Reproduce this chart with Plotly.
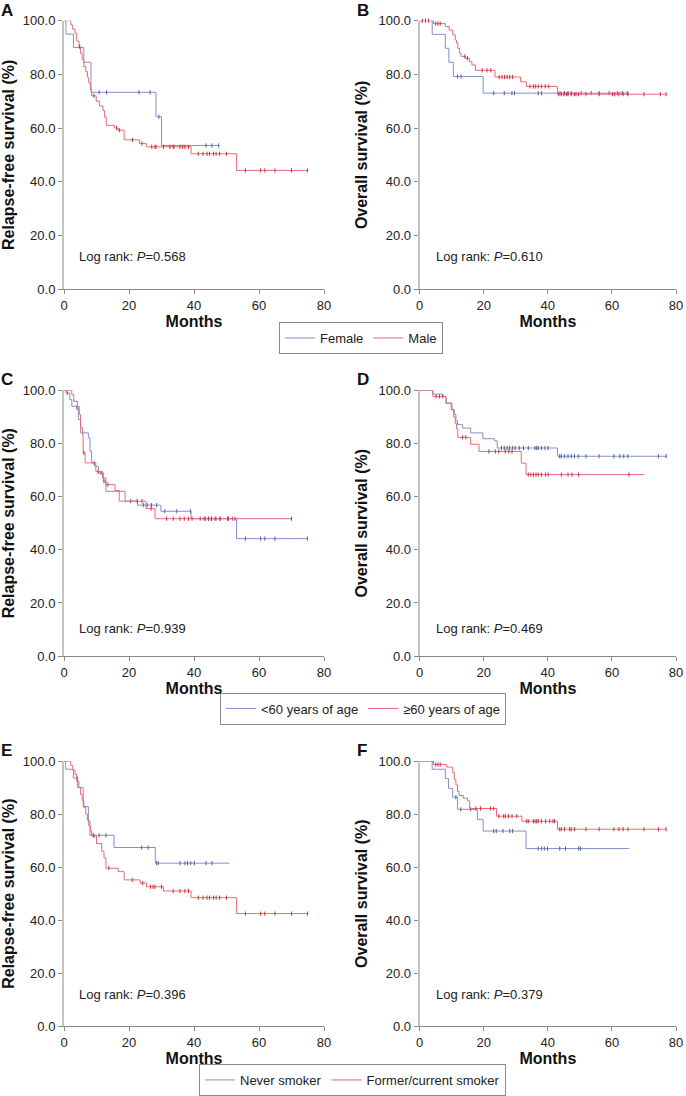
import numpy as np
import plotly.graph_objects as go
from plotly.subplots import make_subplots

# Kaplan-Meier curves: event times (months), survival (%) after each step,
# last follow-up time and censoring times

# A: relapse-free survival by sex
a_fem_t = [0.6, 2.9, 6.1, 8.3, 28.3, 30.0]
a_fem_s = [95.0, 90.0, 84.5, 73.3, 64.2, 53.5]
a_fem_end = 47.8
a_fem_c = [10.8, 13.1, 23.1, 26.5, 29.2, 43.7, 45.5, 47.6]

a_male_t = [2.1, 2.7, 3.4, 3.9, 4.6, 5.1, 5.6, 6.1, 6.7, 7.2, 7.6, 8.1, 8.5, 9.9, 10.9, 12.0, 12.5,
            13.0, 15.6, 16.6, 18.5, 23.2, 25.3, 39.1, 53.1]
a_male_s = [98.4, 96.8, 95.3, 92.4, 90.3, 87.8, 85.6, 82.9, 81.0, 78.9, 76.9, 74.4, 72.0, 70.0, 68.2,
            66.5, 64.0, 61.0, 60.0, 59.2, 55.6, 54.2, 53.0, 50.4, 44.2]
a_male_end = 75.1
a_male_c = [4.8, 9.2, 16.2, 17.0, 21.1, 24.0, 27.0, 28.0, 28.3, 30.6, 32.6, 33.6, 33.8, 35.7, 36.5,
            37.2, 38.3, 41.3, 42.8, 44.0, 44.8, 46.0, 46.8, 47.9, 50.0, 55.8, 60.5, 61.8, 64.9, 70.0, 74.9]

# B: overall survival by sex
b_fem_t = [3.9, 8.0, 9.1, 10.5, 19.8]
b_fem_s = [94.9, 89.7, 84.5, 79.2, 73.0]
b_fem_end = 65.4
b_fem_c = [11.8, 12.9, 23.1, 26.4, 28.8, 29.6, 37.0, 38.0, 43.8, 45.2, 46.3, 47.3, 50.4, 53.5, 56.0,
           59.1, 61.7, 63.2, 64.8]

b_male_t = [4.3, 8.0, 9.2, 10.3, 11.1, 11.5, 11.9, 12.4, 12.9, 14.3, 15.5, 16.3, 17.4, 23.5, 31.5, 33.3, 43.0]
b_male_s = [98.9, 97.8, 96.5, 94.7, 92.8, 91.6, 89.7, 87.9, 86.7, 86.0, 84.7, 83.5, 81.5, 79.0, 77.2, 75.5, 72.6]
b_male_end = 77.0
b_male_c = [0.8, 1.8, 2.8, 5.0, 5.7, 6.4, 14.1, 14.9, 19.5, 21.0, 22.2, 24.8, 25.7, 26.5, 27.3, 28.1,
            29.0, 34.4, 35.5, 36.2, 37.0, 38.0, 39.2, 40.3, 43.4, 44.2, 45.0, 45.8, 46.3, 47.3, 48.3,
            48.8, 49.6, 51.9, 56.0, 60.2, 60.9, 62.2, 63.5, 65.0, 70.0, 75.1, 76.9]

# C: relapse-free survival by age
c_yng_t = [0.6, 1.8, 2.4, 3.9, 4.4, 5.1, 7.5, 8.0, 8.5, 9.5, 10.6, 12.1, 12.9, 18.8, 22.6, 29.8, 39.1, 53.1]
c_yng_s = [99.0, 96.5, 94.0, 93.4, 89.0, 84.0, 82.1, 77.1, 72.7, 71.4, 68.9, 65.8, 62.0, 58.3, 56.8,
           54.5, 51.7, 44.2]
c_yng_end = 75.1
c_yng_c = [1.0, 4.0, 9.3, 11.4, 12.3, 20.5, 24.4, 25.6, 26.9, 28.5, 31.0, 34.7, 38.9, 43.5, 44.5,
           45.3, 46.8, 48.0, 50.3, 51.8, 55.8, 60.5, 61.8, 64.9, 74.9]

c_old_t = [2.4, 3.0, 4.1, 4.7, 5.1, 5.7, 5.9, 6.5, 9.8, 11.9, 12.9, 15.7, 17.0, 25.2, 28.0]
c_old_s = [98.4, 95.9, 94.0, 90.9, 85.9, 83.4, 76.5, 72.7, 69.4, 67.0, 64.5, 62.3, 58.3, 55.5, 51.7]
c_old_end = 70.0
c_old_c = [6.1, 10.5, 13.5, 22.5, 24.0, 26.8, 31.6, 33.6, 35.7, 37.0, 38.3, 39.4, 41.9, 43.1, 44.4,
           45.4, 46.5, 48.0, 50.6, 52.6, 70.0]

# D: overall survival by age
d_yng_t = [4.1, 7.2, 8.2, 10.1, 10.8, 11.3, 11.8, 13.4, 15.9, 19.7, 23.3, 24.2, 43.0]
d_yng_s = [98.6, 97.7, 95.2, 92.7, 90.9, 88.5, 87.1, 85.8, 84.0, 81.8, 81.0, 78.3, 75.2]
d_yng_end = 77.1
d_yng_c = [25.5, 26.4, 27.3, 28.1, 29.0, 29.8, 31.1, 32.4, 33.9, 36.0, 36.5, 37.0, 38.0, 39.1, 40.1,
           43.7, 44.2, 45.2, 46.3, 47.3, 48.3, 49.5, 51.9, 56.0, 60.6, 62.5, 63.7, 65.0, 74.5, 76.9]

d_old_t = [4.1, 8.2, 9.8, 10.6, 11.1, 11.5, 11.9, 15.9, 18.5, 31.7, 33.2]
d_old_s = [97.7, 95.2, 92.7, 90.0, 87.5, 85.5, 82.3, 79.7, 77.0, 72.6, 68.3]
d_old_end = 70.1
d_old_c = [5.1, 6.2, 7.2, 13.4, 14.4, 21.6, 23.6, 24.7, 26.7, 27.8, 28.8, 33.9, 34.7, 35.5, 36.3,
           37.0, 38.0, 39.3, 40.1, 44.2, 46.3, 47.5, 49.6, 65.3]

# E: relapse-free survival by smoking
e_nev_t = [0.5, 2.9, 4.2, 5.9, 7.5, 8.0, 15.4, 28.1]
e_nev_s = [96.9, 93.6, 90.0, 82.8, 77.4, 72.0, 67.4, 61.5]
e_nev_end = 50.9
e_nev_c = [4.0, 9.0, 10.8, 12.9, 23.9, 25.9, 28.5, 29.0, 35.7, 37.2, 38.0, 39.0, 40.1, 43.7, 45.5]

e_smk_t = [2.1, 2.7, 3.4, 3.9, 4.6, 5.1, 5.6, 6.1, 6.7, 7.2, 7.6, 8.1, 8.5, 10.0, 11.6, 12.3, 12.9,
           16.7, 18.5, 23.4, 25.4, 30.6, 39.1, 53.1]
e_smk_s = [98.3, 96.6, 95.0, 92.3, 90.0, 87.4, 85.0, 82.5, 80.0, 77.7, 75.6, 73.7, 71.8, 68.9, 66.0,
           63.5, 59.6, 58.3, 55.2, 54.0, 52.6, 51.0, 48.5, 42.5]
e_smk_end = 75.1
e_smk_c = [9.2, 13.8, 21.0, 24.2, 26.6, 27.4, 28.0, 30.0, 33.6, 35.7, 37.2, 38.3, 41.3, 42.8, 44.0,
           44.8, 46.0, 46.8, 47.9, 50.0, 55.8, 60.5, 61.8, 64.9, 70.0, 74.9]

# F: overall survival by smoking
f_nev_t = [3.9, 8.0, 9.0, 10.3, 11.8, 18.0, 19.8, 33.2]
f_nev_s = [96.9, 93.4, 89.7, 86.4, 81.8, 78.0, 73.6, 67.0]
f_nev_end = 65.4
f_nev_c = [11.3, 12.8, 15.9, 23.1, 23.9, 26.0, 28.1, 29.0, 37.0, 38.0, 38.9, 39.9, 43.7, 45.5, 49.6, 50.2]

f_smk_t = [4.3, 8.4, 10.3, 10.8, 11.3, 11.8, 12.3, 13.6, 14.9, 15.6, 24.0, 31.9, 43.0]
f_smk_s = [98.7, 97.7, 95.6, 93.0, 91.0, 88.5, 87.0, 86.0, 85.0, 82.1, 79.2, 77.3, 74.3]
f_smk_end = 77.0
f_smk_c = [5.0, 5.7, 6.4, 17.5, 19.0, 22.1, 23.1, 24.7, 26.2, 26.7, 27.7, 28.8, 30.3, 33.4, 33.9,
           35.5, 36.0, 36.5, 37.0, 38.0, 39.3, 40.6, 41.6, 42.1, 43.7, 44.2, 45.2, 46.8, 47.3, 48.3,
           51.9, 56.0, 60.6, 62.2, 63.5, 65.0, 70.0, 74.5, 76.9]

p_values = ["0.568", "0.610", "0.939", "0.469", "0.396", "0.379"]
panel_letters = ["A", "B", "C", "D", "E", "F"]
y_titles = ["Relapse-free survival (%)", "Overall survival (%)"] * 3
group_names = [("Female", "Male"), ("<60 years of age", "≥60 years of age"),
               ("Never smoker", "Former/current smoker")]

BLUE = "#8391c8"
BLUE_DK = "#4f5ea3"
RED = "#e66a76"
RED_DK = "#c8303f"
FONT = "Liberation Sans, Arial, sans-serif"

panels = [
    ((a_fem_t, a_fem_s, a_fem_end, a_fem_c), (a_male_t, a_male_s, a_male_end, a_male_c)),
    ((b_fem_t, b_fem_s, b_fem_end, b_fem_c), (b_male_t, b_male_s, b_male_end, b_male_c)),
    ((c_yng_t, c_yng_s, c_yng_end, c_yng_c), (c_old_t, c_old_s, c_old_end, c_old_c)),
    ((d_yng_t, d_yng_s, d_yng_end, d_yng_c), (d_old_t, d_old_s, d_old_end, d_old_c)),
    ((e_nev_t, e_nev_s, e_nev_end, e_nev_c), (e_smk_t, e_smk_s, e_smk_end, e_smk_c)),
    ((f_nev_t, f_nev_s, f_nev_end, f_nev_c), (f_smk_t, f_smk_s, f_smk_end, f_smk_c)),
]


def surv_at(t, s, times):
    idx = np.searchsorted(np.array(t), np.array(times), side="right")
    full = np.concatenate([[100.0], s])
    return full[idx]


fig = make_subplots(rows=3, cols=2)

# panel geometry in pixels of the 686x1096 page
W, H = 686, 1096
x_dom = [(64, 324), (419.7, 676)]
y_dom = [(20.7, 289.3), (390.7, 656.7), (761.7, 1027.3)]
legend_keys = ["legend", "legend2", "legend3"]

for i, (blue, red) in enumerate(panels):
    row, col = i // 2 + 1, i % 2 + 1
    lg = legend_keys[i // 2]
    for (t, s, end, cens), color, dk, name in [(blue, BLUE, BLUE_DK, group_names[i // 2][0]),
                                                 (red, RED, RED_DK, group_names[i // 2][1])]:
        xs = [0] + list(t) + [end]
        ys = [100.0] + list(s) + [s[-1]]
        fig.add_trace(go.Scatter(x=xs, y=ys, mode="lines", line=dict(color=color, width=1, shape="hv"),
                                 name=name, legend=lg, showlegend=(col == 1), cliponaxis=False),
                      row=row, col=col)
        fig.add_trace(go.Scatter(x=cens, y=surv_at(t, s, cens), mode="markers",
                                 marker=dict(symbol="line-ns-open", size=3, color=dk,
                                             line=dict(color=dk, width=1)),
                                 showlegend=False, cliponaxis=False, hoverinfo="skip"),
                      row=row, col=col)

for i in range(6):
    row, col = i // 2 + 1, i % 2 + 1
    x0, x1 = x_dom[col - 1]
    y0, y1 = y_dom[row - 1]
    fig.update_xaxes(domain=[x0 / W, x1 / W], range=[0, 80], tickvals=[0, 20, 40, 60, 80],
                     showline=True, linecolor="#8a8a8a", linewidth=1, ticks="outside", ticklen=4,
                     tickcolor="#8a8a8a", showgrid=False, zeroline=False, automargin=False,
                     tickfont=dict(size=13, color="#222", family=FONT),
                     title=dict(text="Months", standoff=3,
                                font=dict(size=16, color="#111", family=FONT, weight="bold")),
                     row=row, col=col)
    fig.update_yaxes(domain=[1 - y1 / H, 1 - y0 / H], range=[0, 100], tickvals=[0, 20, 40, 60, 80, 100],
                     tickformat=".1f", showline=True, linecolor="#c4c4c4", linewidth=2, ticks="outside",
                     ticklen=4, tickcolor="#8a8a8a", showgrid=False, zeroline=False, automargin=False,
                     tickfont=dict(size=13, color="#222", family=FONT),
                     title=dict(text=y_titles[i], standoff=7,
                                font=dict(size=16, color="#111", family=FONT, weight="bold")),
                     row=row, col=col)
    xa = "x" if i == 0 else f"x{i + 1}"
    ya = "y" if i == 0 else f"y{i + 1}"
    fig.add_annotation(x=4.0 if col == 1 else 4.6, y=12.0 if row != 2 else 10.2, xref=xa, yref=ya,
                       xanchor="left", yanchor="middle", showarrow=False,
                       text=f"Log rank: <i>P</i>=" + p_values[i],
                       font=dict(size=13, color="#222", family=FONT))
    fig.add_annotation(x=(0 if col == 1 else 356) / W, y=1 - (y0 - 21) / H, xref="paper", yref="paper",
                       xanchor="left", yanchor="top", showarrow=False, text=f"<b>{panel_letters[i]}</b>",
                       font=dict(size=17, color="#111", family=FONT), borderpad=0)

legend_style = dict(orientation="h", xanchor="center", yanchor="middle", bgcolor="white",
                    bordercolor="#8a8a8a", borderwidth=1, font=dict(size=13, color="#222", family=FONT),
                    itemwidth=30, tracegroupgap=0)
fig.update_layout(
    width=W, height=H, margin=dict(l=0, r=0, t=0, b=0),
    paper_bgcolor="white", plot_bgcolor="white", font=dict(family=FONT),
    legend=dict(x=361 / W, y=1 - 338 / H, **legend_style),
    legend2=dict(x=363 / W, y=1 - 708.5 / H, **legend_style),
    legend3=dict(x=352.5 / W, y=1 - 1081 / H, **legend_style),
)

fig.write_html("out.html", config={"displayModeBar": False},
               post_script="document.body.style.margin='0px';")
